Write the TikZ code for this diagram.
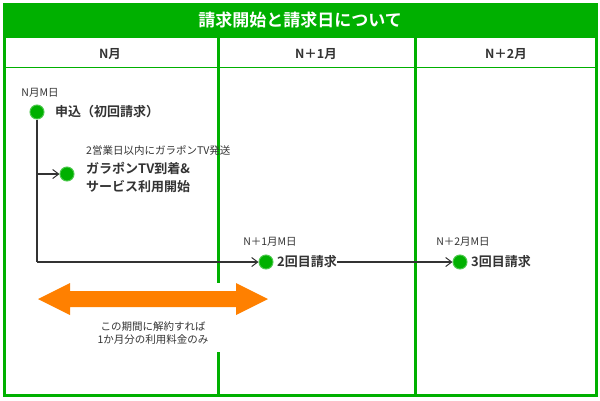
\documentclass[tikz,border=0pt]{standalone}
\usepackage{fontspec}
\setmainfont{Noto Sans CJK JP}[BoldFont={* Bold}]
\usetikzlibrary{arrows.meta}
\definecolor{gr}{HTML}{00B000}
\definecolor{tx}{HTML}{333333}
\definecolor{og}{HTML}{FF8000}
\begin{document}
\begin{tikzpicture}[x=1pt,y=-1pt,
  frame/.style={draw=gr,line width=3pt},
  dot/.style={circle,fill=gr,draw=gr!70,line width=1pt,minimum size=14pt,inner sep=0pt},
  big/.style={font=\fontsize{13}{15}\selectfont\bfseries,text=tx,inner sep=0pt,anchor=west},
  small/.style={font=\fontsize{10.5}{13}\selectfont,text=tx,inner sep=0pt},
  conn/.style={draw=tx,line width=1.5pt},
  tip/.style={-{Straight Barb[length=6pt,width=9pt,line width=1pt]}}]
\useasboundingbox (0,0) rectangle (600,400);
\fill[gr] (4,4) rectangle (596,38);
\node[text=white,font=\fontsize{17}{19}\selectfont\bfseries] (title) at (300,20) {請求開始と請求日について};
\draw[gr,line width=1pt] (4,67) -- (596,67);
\draw[frame] (218,38) -- (218,283) (218,352) -- (218,395);
\draw[frame] (415,38) -- (415,395);
\draw[frame] (4,4) rectangle (596,395);
\node[font=\fontsize{12.5}{14}\selectfont\bfseries,text=tx] (h1) at (110,54) {N月};
\node[font=\fontsize{12.5}{14}\selectfont\bfseries,text=tx] (h2) at (316,54) {N＋1月};
\node[font=\fontsize{12.5}{14}\selectfont\bfseries,text=tx] (h3) at (506,54) {N＋2月};
\node[small] (d1) at (40,93) {N月M日};
\node[dot] (c1) at (37,112) {};
\node[big] (t1) at (55,112) {申込（初回請求）};
\node[small,anchor=west] (s2) at (86,150) {2営業日以内にガラポンTV発送};
\node[dot] (c2) at (67,174) {};
\node[big] (t2a) at (86,168) {ガラポンTV到着\&};
\node[big] (t2b) at (86,187) {サービス利用開始};
\node[small] (d3) at (270,242) {N＋1月M日};
\node[dot] (c3) at (266,262) {};
\node[big] (t3) at (277,262) {2回目請求};
\node[small] (d4) at (463,242) {N＋2月M日};
\node[dot] (c4) at (460,262) {};
\node[big] (t4) at (471,262) {3回目請求};
\coordinate (k1) at (37,262);
\coordinate (k2) at (37,174);
\draw[conn] (c1) -- (k1);
\draw[conn,tip] (k1) -- (c3);
\draw[conn,tip] (k2) -- (c2);
\draw[conn,tip] (t3) -- (c4);
\fill[og] (38,299) -- (70,283) -- (70,291) -- (236,291) -- (236,283) -- (268,299)
  -- (236,315) -- (236,307) -- (70,307) -- (70,315) -- cycle;
\node[small,align=center] (note) at (153,333) {この期間に解約すれば\\1か月分の利用料金のみ};
\end{tikzpicture}
\end{document}
